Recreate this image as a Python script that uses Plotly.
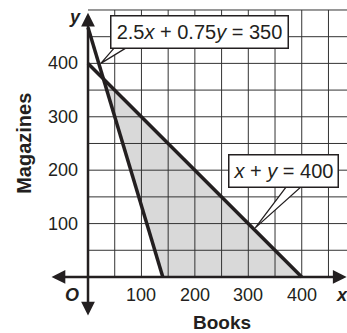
import plotly.graph_objects as go

# constraint lines (Books x, Magazines y)
line1_x = [0, 140]          # 2.5x + 0.75y = 350
line1_y = [467, 0]
line2_x = [0, 400]          # x + y = 400
line2_y = [400, 0]
region_x = [140, 400, 28.6]
region_y = [0, 0, 371.4]

grid_x = [50, 100, 150, 200, 250, 300, 350, 400, 450]
grid_y = [50, 100, 150, 200, 250, 300, 350, 400, 450, 500]
x_ticks = [100, 200, 300, 400]
y_ticks = [100, 200, 300, 400]

FONT = "Liberation Sans"
INK = "#231f20"

fig = go.Figure()

# shaded feasible region
fig.add_trace(go.Scatter(
    x=region_x + [region_x[0]], y=region_y + [region_y[0]],
    mode="lines", fill="toself", fillcolor="#d9d9d9",
    line=dict(width=0), hoverinfo="skip", showlegend=False
))

# grid
gx, gy = [], []
for v in grid_x:
    gx += [v, v, None]
    gy += [0, grid_y[-1], None]
for h in grid_y:
    gx += [0, 490, None]
    gy += [h, h, None]
fig.add_trace(go.Scatter(x=gx, y=gy, mode="lines",
                         line=dict(color="#333333", width=1),
                         hoverinfo="skip", showlegend=False))

# boundary lines
for lx, ly in [(line1_x, line1_y), (line2_x, line2_y)]:
    fig.add_trace(go.Scatter(x=lx, y=ly, mode="lines",
                             line=dict(color=INK, width=3.5),
                             hoverinfo="skip", showlegend=False))

# callout wedges
fig.add_shape(type="path", path="M 50,430 L 24,400 L 73,430 Z",
              xref="x", yref="y", fillcolor="white",
              line=dict(color=INK, width=1.3), layer="above")
fig.add_shape(type="path", path="M 372,170 L 313,92 L 400,170 Z",
              xref="x", yref="y", fillcolor="white",
              line=dict(color=INK, width=1.3), layer="above")

anns = []
# axes with arrows
anns.append(dict(x=484, y=0, ax=-71, ay=0, xref="x", yref="y", axref="x", ayref="y",
                 text="", showarrow=True, arrowhead=2, arrowside="end+start",
                 arrowsize=1.1, arrowwidth=2.5, arrowcolor=INK))
anns.append(dict(x=0, y=495, ax=0, ay=-75, xref="x", yref="y", axref="x", ayref="y",
                 text="", showarrow=True, arrowhead=2, arrowside="end+start",
                 arrowsize=1.1, arrowwidth=2.5, arrowcolor=INK))

tick_font = dict(family=FONT, size=18, color=INK)
for t in x_ticks:
    anns.append(dict(x=t, y=0, text=str(t), showarrow=False, yshift=-18,
                     font=tick_font))
for t in y_ticks:
    anns.append(dict(x=0, y=t, text=str(t), showarrow=False, xshift=-8,
                     xanchor="right", font=tick_font))
anns.append(dict(x=0, y=0, text="<b><i>O</i></b>", showarrow=False,
                 xshift=-16, yshift=-18, font=tick_font))
anns.append(dict(x=475, y=-34, text="<b><i>x</i></b>", showarrow=False, font=tick_font))
anns.append(dict(x=-24, y=486, text="<b><i>y</i></b>", showarrow=False, font=tick_font))
anns.append(dict(x=251, y=-86, text="<b>Books</b>", showarrow=False,
                 font=dict(family=FONT, size=19, color=INK)))
anns.append(dict(x=-120, y=251, text="<b>Magazines</b>", showarrow=False, textangle=-90,
                 font=dict(family=FONT, size=20, color=INK)))

# equation labels
box_font = dict(family=FONT, size=20, color=INK)
anns.append(dict(x=209, y=459, text="2.5<i>x</i> + 0.75<i>y</i> = 350", showarrow=False,
                 bgcolor="white", bordercolor=INK, borderwidth=1.5, borderpad=2,
                 width=172, height=27, font=box_font))
anns.append(dict(x=365, y=198, text="<i>x</i> + <i>y</i> = 400", showarrow=False,
                 bgcolor="white", bordercolor=INK, borderwidth=1.5, borderpad=2,
                 width=104, height=27, font=box_font))

fig.update_layout(
    width=347, height=333,
    margin=dict(l=0, r=0, t=0, b=0),
    paper_bgcolor="white", plot_bgcolor="white",
    xaxis=dict(range=[-164.7, 484.7], visible=False, fixedrange=True),
    yaxis=dict(range=[-104.9, 518.7], visible=False, fixedrange=True),
    annotations=anns,
    showlegend=False
)

fig.write_html("out.html", config={"displayModeBar": False},
               post_script="document.body.style.margin='0';document.body.style.overflow='hidden';")
